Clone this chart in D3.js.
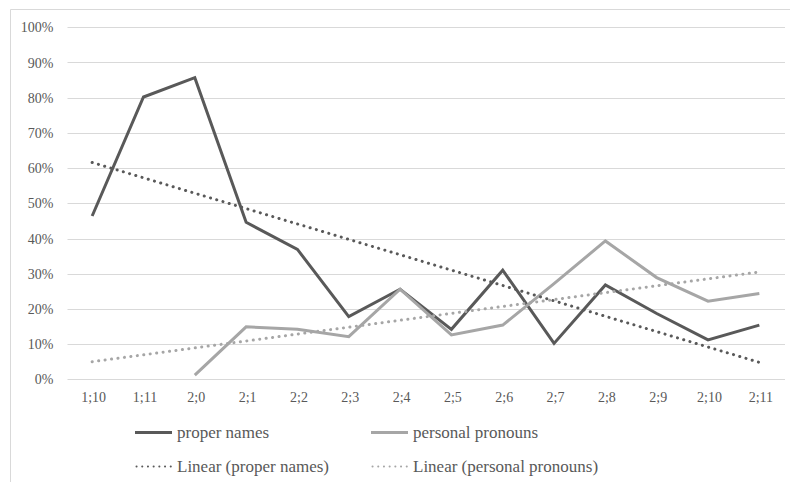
<!DOCTYPE html>
<html>
<head>
<meta charset="utf-8">
<script src="https://cdn.jsdelivr.net/npm/d3@7"></script>
<style>
  html, body { margin: 0; padding: 0; background: #fff; }
  svg { display: block; }
</style>
</head>
<body>
<svg id="chart" width="790" height="483"></svg>
<script>
const categories = ["1;10","1;11","2;0","2;1","2;2","2;3","2;4","2;5","2;6","2;7","2;8","2;9","2;10","2;11"];
const properNames = [46.4, 80.2, 85.7, 44.6, 36.9, 17.8, 25.6, 14.2, 31.0, 10.2, 26.8, 18.7, 11.2, 15.4];
const personalPronouns = [null, null, 1.2, 14.9, 14.2, 12.1, 25.6, 12.6, 15.4, 27.2, 39.3, 28.9, 22.2, 24.4];
const trendProper = [61.6, 4.8];     // value at first and last category
const trendPronouns = [5.0, 30.5];   // value at first and last category
const yTicks = [0, 10, 20, 30, 40, 50, 60, 70, 80, 90, 100];
const legendLabels = ["proper names", "personal pronouns", "Linear (proper names)", "Linear (personal pronouns)"];

const FONT = "'Liberation Serif', 'Times New Roman', Tinos, 'DejaVu Serif', serif";
const darkC = "#595959", lightC = "#a6a6a6", gridC = "#d9d9d9";
const svg = d3.select("#chart");

// chart border (top and left visible)
svg.append("line").attr("x1", 10.5).attr("y1", 9.5).attr("x2", 790).attr("y2", 9.5).attr("stroke", gridC);
svg.append("line").attr("x1", 10.5).attr("y1", 9.5).attr("x2", 10.5).attr("y2", 482).attr("stroke", gridC);

const plotLeft = 66.5, plotRight = 785, plotTop = 27.3, plotBottom = 379.3;
const x = d3.scaleBand().domain(categories).range([plotLeft, plotRight]);
const cx = c => x(c) + x.bandwidth() / 2;
const y = d3.scaleLinear().domain([0, 100]).range([plotBottom, plotTop]);

// gridlines
svg.append("g").selectAll("line").data(yTicks).join("line")
  .attr("x1", plotLeft + 1).attr("x2", plotRight)
  .attr("y1", d => Math.round(y(d)) + 0.5).attr("y2", d => Math.round(y(d)) + 0.5)
  .attr("stroke", gridC).attr("stroke-width", 1);

// y labels
svg.append("g").selectAll("text").data(yTicks).join("text")
  .attr("x", 53.5).attr("y", d => y(d) + 5)
  .attr("text-anchor", "end").attr("font-size", 14)
  .attr("font-family", FONT).attr("fill", darkC)
  .text(d => d + "%");

// x labels
svg.append("g").selectAll("text").data(categories).join("text")
  .attr("x", d => cx(d) + 1.5).attr("y", 402)
  .attr("text-anchor", "middle").attr("font-size", 14)
  .attr("font-family", FONT).attr("fill", darkC)
  .text(d => d);

const line = d3.line().defined(d => d.v !== null).x(d => cx(d.c)).y(d => y(d.v));

const first = categories[0], last = categories[categories.length - 1];
function trend(vals, color) {
  svg.append("path")
    .attr("d", line([{c: first, v: vals[0]}, {c: last, v: vals[1]}]))
    .attr("fill", "none").attr("stroke", color).attr("stroke-width", 3)
    .attr("stroke-linecap", "round").attr("stroke-dasharray", "0.1,6.4");
}
function series(vals, color) {
  svg.append("path")
    .attr("d", line(categories.map((c, i) => ({c, v: vals[i]}))))
    .attr("fill", "none").attr("stroke", color).attr("stroke-width", 3)
    .attr("stroke-linejoin", "miter");
}
series(properNames, darkC);
series(personalPronouns, lightC);
trend(trendProper, darkC);
trend(trendPronouns, lightC);

// legend
const legendItems = [
  {label: legendLabels[0], color: darkC, dotted: false, x: 135, y: 432.5},
  {label: legendLabels[1], color: lightC, dotted: false, x: 371, y: 432.5},
  {label: legendLabels[2], color: darkC, dotted: true, x: 135, y: 466.5},
  {label: legendLabels[3], color: lightC, dotted: true, x: 371, y: 466.5}
];
const lg = svg.append("g").selectAll("g").data(legendItems).join("g");
lg.append("line")
  .attr("x1", d => d.x + (d.dotted ? 1.5 : 0)).attr("x2", d => d.x + 37)
  .attr("y1", d => d.y).attr("y2", d => d.y)
  .attr("stroke", d => d.color)
  .attr("stroke-width", d => d.dotted ? 2 : 3)
  .attr("stroke-linecap", d => d.dotted ? "round" : "butt")
  .attr("stroke-dasharray", d => d.dotted ? "0.1,5.6" : null);
lg.append("text")
  .attr("x", d => d.x + 42).attr("y", d => d.y + 5.5)
  .attr("font-size", 17)
  .attr("font-family", FONT).attr("fill", darkC)
  .text(d => d.label);
</script>
</body>
</html>
